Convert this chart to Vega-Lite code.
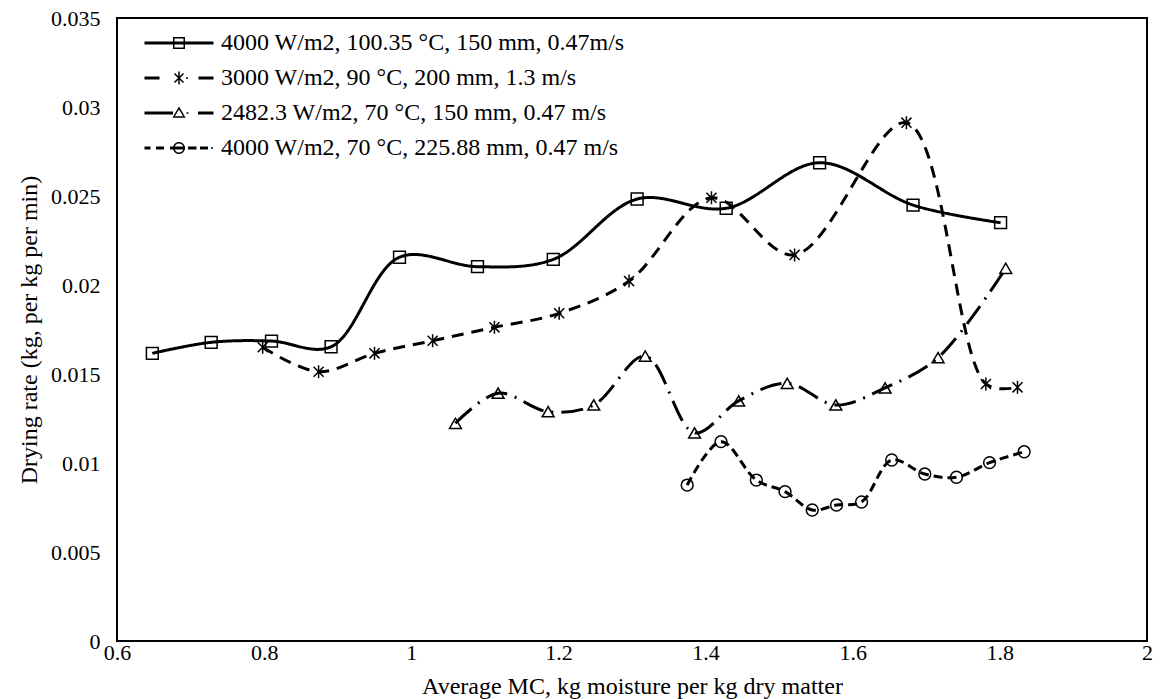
{
  "$schema": "https://vega.github.io/schema/vega-lite/v6.json",
  "width": 1030,
  "height": 623,
  "autosize": {"type": "none"},
  "padding": {"left": 117, "top": 18, "right": 15, "bottom": 58},
  "background": "white",
  "config": {
    "view": {"stroke": "black", "strokeWidth": 2},
    "font": "Liberation Serif"
  },
  "data": {
    "values": [
      {"s": "4000 W/m2, 100.35 °C, 150 mm, 0.47m/s", "x": 0.648, "y": 0.01616},
      {"s": "4000 W/m2, 100.35 °C, 150 mm, 0.47m/s", "x": 0.728, "y": 0.01678},
      {"s": "4000 W/m2, 100.35 °C, 150 mm, 0.47m/s", "x": 0.81, "y": 0.01685},
      {"s": "4000 W/m2, 100.35 °C, 150 mm, 0.47m/s", "x": 0.891, "y": 0.01653},
      {"s": "4000 W/m2, 100.35 °C, 150 mm, 0.47m/s", "x": 0.984, "y": 0.02156},
      {"s": "4000 W/m2, 100.35 °C, 150 mm, 0.47m/s", "x": 1.09, "y": 0.02103},
      {"s": "4000 W/m2, 100.35 °C, 150 mm, 0.47m/s", "x": 1.193, "y": 0.02144},
      {"s": "4000 W/m2, 100.35 °C, 150 mm, 0.47m/s", "x": 1.307, "y": 0.02483},
      {"s": "4000 W/m2, 100.35 °C, 150 mm, 0.47m/s", "x": 1.428, "y": 0.02431},
      {"s": "4000 W/m2, 100.35 °C, 150 mm, 0.47m/s", "x": 1.555, "y": 0.02687},
      {"s": "4000 W/m2, 100.35 °C, 150 mm, 0.47m/s", "x": 1.682, "y": 0.02449},
      {"s": "4000 W/m2, 100.35 °C, 150 mm, 0.47m/s", "x": 1.801, "y": 0.0235},
      {"s": "3000 W/m2, 90 °C, 200 mm, 1.3 m/s", "x": 0.798, "y": 0.0165},
      {"s": "3000 W/m2, 90 °C, 200 mm, 1.3 m/s", "x": 0.874, "y": 0.01513},
      {"s": "3000 W/m2, 90 °C, 200 mm, 1.3 m/s", "x": 0.95, "y": 0.01616},
      {"s": "3000 W/m2, 90 °C, 200 mm, 1.3 m/s", "x": 1.029, "y": 0.01687},
      {"s": "3000 W/m2, 90 °C, 200 mm, 1.3 m/s", "x": 1.113, "y": 0.01762},
      {"s": "3000 W/m2, 90 °C, 200 mm, 1.3 m/s", "x": 1.201, "y": 0.01841},
      {"s": "3000 W/m2, 90 °C, 200 mm, 1.3 m/s", "x": 1.296, "y": 0.02022},
      {"s": "3000 W/m2, 90 °C, 200 mm, 1.3 m/s", "x": 1.408, "y": 0.0249},
      {"s": "3000 W/m2, 90 °C, 200 mm, 1.3 m/s", "x": 1.521, "y": 0.02169},
      {"s": "3000 W/m2, 90 °C, 200 mm, 1.3 m/s", "x": 1.673, "y": 0.02912},
      {"s": "3000 W/m2, 90 °C, 200 mm, 1.3 m/s", "x": 1.781, "y": 0.01444},
      {"s": "3000 W/m2, 90 °C, 200 mm, 1.3 m/s", "x": 1.824, "y": 0.01425},
      {"s": "2482.3 W/m2, 70 °C, 150 mm, 0.47 m/s", "x": 1.06, "y": 0.01223},
      {"s": "2482.3 W/m2, 70 °C, 150 mm, 0.47 m/s", "x": 1.118, "y": 0.01392},
      {"s": "2482.3 W/m2, 70 °C, 150 mm, 0.47 m/s", "x": 1.186, "y": 0.01288},
      {"s": "2482.3 W/m2, 70 °C, 150 mm, 0.47 m/s", "x": 1.248, "y": 0.01326},
      {"s": "2482.3 W/m2, 70 °C, 150 mm, 0.47 m/s", "x": 1.318, "y": 0.01601},
      {"s": "2482.3 W/m2, 70 °C, 150 mm, 0.47 m/s", "x": 1.385, "y": 0.01169},
      {"s": "2482.3 W/m2, 70 °C, 150 mm, 0.47 m/s", "x": 1.445, "y": 0.01349},
      {"s": "2482.3 W/m2, 70 °C, 150 mm, 0.47 m/s", "x": 1.511, "y": 0.01448},
      {"s": "2482.3 W/m2, 70 °C, 150 mm, 0.47 m/s", "x": 1.577, "y": 0.01326},
      {"s": "2482.3 W/m2, 70 °C, 150 mm, 0.47 m/s", "x": 1.644, "y": 0.01422},
      {"s": "2482.3 W/m2, 70 °C, 150 mm, 0.47 m/s", "x": 1.716, "y": 0.01592},
      {"s": "2482.3 W/m2, 70 °C, 150 mm, 0.47 m/s", "x": 1.808, "y": 0.02094},
      {"s": "4000 W/m2, 70 °C, 225.88 mm, 0.47 m/s", "x": 1.375, "y": 0.00876},
      {"s": "4000 W/m2, 70 °C, 225.88 mm, 0.47 m/s", "x": 1.421, "y": 0.0112},
      {"s": "4000 W/m2, 70 °C, 225.88 mm, 0.47 m/s", "x": 1.469, "y": 0.00904},
      {"s": "4000 W/m2, 70 °C, 225.88 mm, 0.47 m/s", "x": 1.508, "y": 0.00839},
      {"s": "4000 W/m2, 70 °C, 225.88 mm, 0.47 m/s", "x": 1.545, "y": 0.00736},
      {"s": "4000 W/m2, 70 °C, 225.88 mm, 0.47 m/s", "x": 1.578, "y": 0.00764},
      {"s": "4000 W/m2, 70 °C, 225.88 mm, 0.47 m/s", "x": 1.612, "y": 0.00781},
      {"s": "4000 W/m2, 70 °C, 225.88 mm, 0.47 m/s", "x": 1.653, "y": 0.01017},
      {"s": "4000 W/m2, 70 °C, 225.88 mm, 0.47 m/s", "x": 1.698, "y": 0.00938},
      {"s": "4000 W/m2, 70 °C, 225.88 mm, 0.47 m/s", "x": 1.741, "y": 0.0092},
      {"s": "4000 W/m2, 70 °C, 225.88 mm, 0.47 m/s", "x": 1.786, "y": 0.01002},
      {"s": "4000 W/m2, 70 °C, 225.88 mm, 0.47 m/s", "x": 1.833, "y": 0.01063}
    ]
  },
  "encoding": {
    "x": {
      "field": "x", "type": "quantitative",
      "scale": {"domain": [0.6, 2], "zero": false, "nice": false},
      "axis": {
        "values": [0.6, 0.8, 1, 1.2, 1.4, 1.6, 1.8, 2],
        "format": ".1~f", "grid": false, "ticks": false, "domain": false,
        "labelFont": "Liberation Serif", "labelFontSize": 22, "labelColor": "black",
        "labelPadding": 1, "labelFlush": false,
        "title": "Average MC, kg moisture per kg dry matter",
        "titleFont": "Liberation Serif", "titleFontSize": 24, "titleFontWeight": "normal",
        "titleColor": "black", "titlePadding": 11
      }
    },
    "y": {
      "field": "y", "type": "quantitative",
      "scale": {"domain": [0, 0.035], "nice": false},
      "axis": {
        "values": [0, 0.005, 0.01, 0.015, 0.02, 0.025, 0.03, 0.035],
        "format": ".3~f", "grid": false, "ticks": false, "domain": false,
        "labelFont": "Liberation Serif", "labelFontSize": 22, "labelColor": "black",
        "labelPadding": 17, "labelFlush": false,
        "title": "Drying rate (kg, per kg per min)",
        "titleFont": "Liberation Serif", "titleFontSize": 24, "titleFontWeight": "normal",
        "titleColor": "black", "titlePadding": 9
      }
    }
  },
  "resolve": {"scale": {"shape": "independent"}, "legend": {"shape": "independent"}},
  "layer": [
    {
      "mark": {"type": "line", "interpolate": "catmull-rom", "strokeWidth": 3, "color": "black"},
      "encoding": {
        "strokeDash": {
          "field": "s", "type": "nominal",
          "scale": {
            "domain": ["4000 W/m2, 100.35 °C, 150 mm, 0.47m/s", "3000 W/m2, 90 °C, 200 mm, 1.3 m/s", "2482.3 W/m2, 70 °C, 150 mm, 0.47 m/s", "4000 W/m2, 70 °C, 225.88 mm, 0.47 m/s"],
            "range": [[1, 0], [12, 8], [22, 8, 2, 8], [9, 5]]
          },
          "legend": null
        }
      }
    },
    {
      "mark": {"type": "point", "filled": false, "stroke": "black", "strokeWidth": 1.5, "size": 140, "opacity": 1},
      "encoding": {
        "shape": {
          "field": "s", "type": "nominal",
          "scale": {
            "domain": ["4000 W/m2, 100.35 °C, 150 mm, 0.47m/s", "3000 W/m2, 90 °C, 200 mm, 1.3 m/s", "2482.3 W/m2, 70 °C, 150 mm, 0.47 m/s", "4000 W/m2, 70 °C, 225.88 mm, 0.47 m/s"],
            "range": ["square", "M-0.85,-0.85L0.85,0.85M-0.85,0.85L0.85,-0.85M0,-1.1L0,1.1", "triangle-up", "circle"]
          },
          "legend": null
        }
      }
    },
    {
      "mark": {"type": "point", "filled": true, "color": "black", "opacity": 0},
      "encoding": {
        "shape": {
          "field": "s", "type": "nominal",
          "scale": {
            "domain": ["4000 W/m2, 100.35 °C, 150 mm, 0.47m/s", "3000 W/m2, 90 °C, 200 mm, 1.3 m/s", "2482.3 W/m2, 70 °C, 150 mm, 0.47 m/s", "4000 W/m2, 70 °C, 225.88 mm, 0.47 m/s"],
            "range": [
              "M-3.45,-0.15H3.45V0.15H-3.45Z M-0.6,-0.6H0.6V0.6H-0.6Z M-0.45,-0.45V0.45H0.45V-0.45Z",
              "M-3.45,-0.15H-1.95V0.15H-3.45Z M1.95,-0.15H3.45V0.15H1.95Z M0.7,-0.08H0.9V0.08H0.7Z M-0.075,-0.65H0.075V0.65H-0.075Z M-0.397,-0.503L0.503,0.397L0.397,0.503L-0.503,-0.397Z M-0.397,0.503L-0.503,0.397L0.397,-0.503L0.503,-0.397Z",
              "M-3.45,-0.15H-0.6V0.15H-3.45Z M0.75,-0.08H0.95V0.08H0.75Z M1.9,-0.15H3.45V0.15H1.9Z M0,-0.65L0.66,0.48L-0.66,0.48Z M0,-0.36L-0.41,0.33L0.41,0.33Z",
              "M-3.45,-0.15H-2.85V0.15H-3.45Z M-2.3,-0.15H-1.5V0.15H-2.3Z M-0.9,-0.15H0.6V0.15H-0.9Z M0.9,-0.15H1.75V0.15H0.9Z M2.1,-0.15H2.9V0.15H2.1Z M3.2,-0.08H3.4V0.08H3.2Z M-0.6,0A0.6,0.6 0 1,1 0.6,0A0.6,0.6 0 1,1 -0.6,0Z M-0.45,0A0.45,0.45 0 1,0 0.45,0A0.45,0.45 0 1,0 -0.45,0Z"
            ]
          },
          "legend": {
            "orient": "none", "legendX": 50, "legendY": 13,
            "title": null, "padding": 0,
            "symbolSize": 400, "symbolStrokeWidth": 0, "symbolOpacity": 1,
            "symbolFillColor": "black",
            "labelFont": "Liberation Serif", "labelFontSize": 24, "labelColor": "black",
            "labelOffset": 30, "rowPadding": 11, "labelLimit": 700
          }
        }
      }
    }
  ]
}
